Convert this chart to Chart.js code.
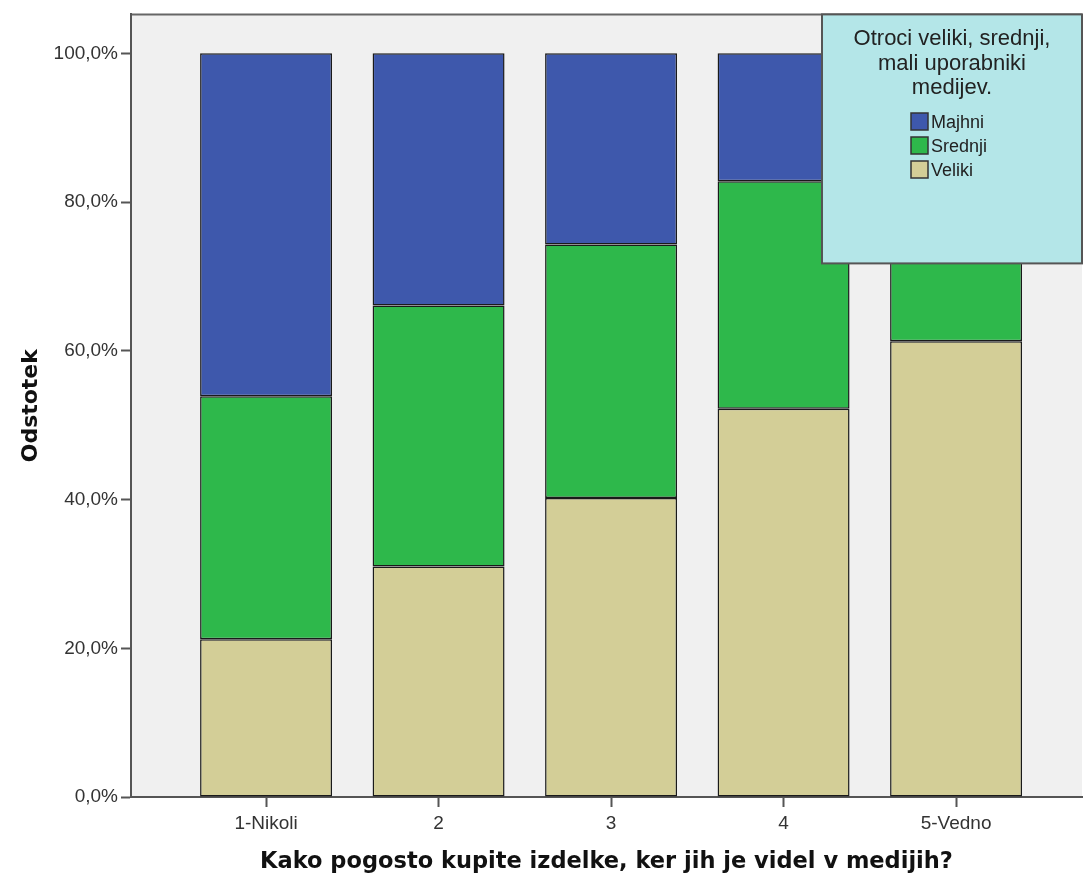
<!DOCTYPE html>
<html>
<head>
<meta charset="utf-8">
<script src="https://cdn.jsdelivr.net/npm/chart.js@4/dist/chart.umd.min.js"></script>
<style>
  html, body { margin: 0; padding: 0; background: #fff; }
  #wrap { width: 1083px; height: 876px; }
</style>
</head>
<body>
<div id="wrap"><canvas id="chart" width="1083" height="876"></canvas></div>
<script>
const categories = ['1-Nikoli', '2', '3', '4', '5-Vedno'];
const veliki  = [21.2, 31.0, 40.2, 52.2, 61.3];
const srednji = [32.7, 35.1, 34.1, 30.6, 27.3];
const majhni  = [46.1, 33.9, 25.7, 17.2, 11.4];
const yTicks = [0, 20, 40, 60, 80, 100];
const legendTitle = ['Otroci veliki, srednji,', 'mali uporabniki', 'medijev.'];

const toPoints = arr => arr.map((v, i) => ({ x: i, y: v }));

// grey plot background + frame, and the SPSS style legend box
const plotBox = {
  id: 'plotBox',
  beforeDraw(chart) {
    const { ctx, chartArea: a } = chart;
    ctx.save();
    ctx.fillStyle = '#f0f0f0';
    ctx.fillRect(a.left, a.top, a.right - a.left, a.bottom - a.top);
    ctx.strokeStyle = '#666';
    ctx.lineWidth = 2;
    ctx.beginPath();
    ctx.moveTo(a.left, a.bottom);
    ctx.lineTo(a.left, a.top);
    ctx.lineTo(a.right, a.top);
    ctx.stroke();
    ctx.restore();
  },
  afterDraw(chart) {
    const { ctx, chartArea: a } = chart;
    const x0 = 822, y0 = a.top, w = a.right - x0, h = 249;
    ctx.save();
    ctx.fillStyle = '#b4e6e8';
    ctx.fillRect(x0, y0, w, h);
    ctx.strokeStyle = '#555';
    ctx.lineWidth = 2;
    ctx.strokeRect(x0, y0, w, h);
    const cx = x0 + w / 2;
    ctx.fillStyle = '#222';
    ctx.font = '22px "Liberation Sans", Arial, sans-serif';
    ctx.textAlign = 'center';
    ctx.textBaseline = 'middle';
    legendTitle.forEach((t, i) => ctx.fillText(t, cx, 39 + i * 24.5));
    const ds = chart.data.datasets.slice().reverse();
    ctx.font = '18px "Liberation Sans", Arial, sans-serif';
    ctx.textAlign = 'left';
    ds.forEach((d, i) => {
      const yy = 122 + i * 24;
      ctx.fillStyle = d.backgroundColor;
      ctx.fillRect(911, yy - 9, 17, 17);
      ctx.strokeStyle = '#333';
      ctx.lineWidth = 1.5;
      ctx.strokeRect(911, yy - 9, 17, 17);
      ctx.fillStyle = '#222';
      ctx.fillText(d.label, 931, yy + 1);
    });
    ctx.restore();
  }
};

const barStyle = {
  borderColor: '#1a1a1a',
  borderWidth: 1.5,
  borderSkipped: false,
  barPercentage: 0.765,
  categoryPercentage: 1
};

new Chart(document.getElementById('chart'), {
  type: 'bar',
  data: {
    datasets: [
      Object.assign({ label: 'Veliki', data: toPoints(veliki), backgroundColor: '#d3ce97' }, barStyle),
      Object.assign({ label: 'Srednji', data: toPoints(srednji), backgroundColor: '#2eb84b' }, barStyle),
      Object.assign({ label: 'Majhni', data: toPoints(majhni), backgroundColor: '#3e58ac' }, barStyle)
    ]
  },
  plugins: [plotBox],
  options: {
    responsive: false,
    animation: false,
    layout: { padding: { top: 14, right: 1, left: 0, bottom: 0 } },
    plugins: { legend: { display: false }, tooltip: { enabled: false } },
    scales: {
      x: {
        type: 'linear',
        stacked: true,
        offset: false,
        min: -0.783,
        max: 4.73,
        afterBuildTicks: s => { s.ticks = categories.map((c, i) => ({ value: i })); },
        afterFit: s => { s.height = 79; },
        grid: { offset: false, drawOnChartArea: false, tickLength: 10, tickColor: '#555', tickWidth: 2 },
        border: { color: '#555', width: 2 },
        ticks: {
          color: '#333',
          padding: 5,
          font: { family: '"Liberation Sans", Arial, sans-serif', size: 19 },
          callback: v => categories[v]
        },
        title: {
          display: true,
          text: 'Kako pogosto kupite izdelke, ker jih je videl v medijih?',
          color: '#111',
          font: { family: '"DejaVu Sans", Verdana, sans-serif', size: 22.5, weight: 'bold' },
          padding: { top: 5, bottom: 0 }
        }
      },
      y: {
        stacked: true,
        min: 0,
        max: 105.24,
        afterBuildTicks: s => { s.ticks = yTicks.map(v => ({ value: v })); },
        afterFit: s => { s.width = 131; },
        grid: { drawOnChartArea: false, tickLength: 10, tickColor: '#555', tickWidth: 2 },
        border: { color: '#555', width: 2 },
        ticks: {
          color: '#333',
          padding: 3,
          font: { family: '"Liberation Sans", Arial, sans-serif', size: 19 },
          callback: v => v.toFixed(1).replace('.', ',') + '%'
        },
        title: {
          display: true,
          text: 'Odstotek',
          color: '#111',
          font: { family: '"DejaVu Sans", Verdana, sans-serif', size: 22, weight: 'bold' },
          padding: { top: 18, bottom: 0 }
        }
      }
    }
  }
});
</script>
</body>
</html>
